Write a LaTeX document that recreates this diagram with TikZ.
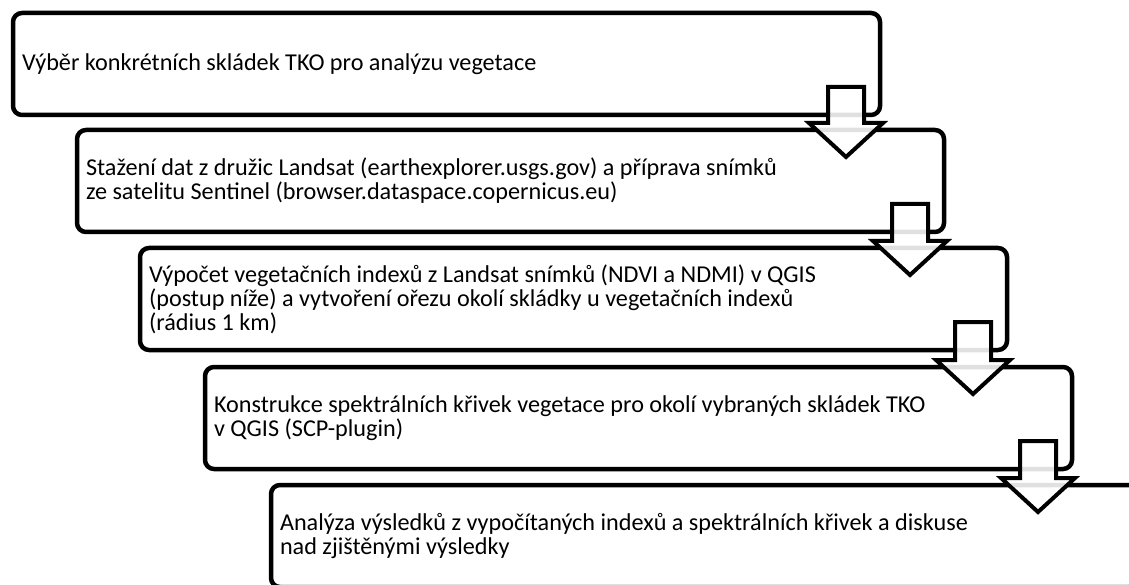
\documentclass[tikz,border=0pt]{standalone}
\usepackage{fontspec}
\setmainfont{Carlito}
\usetikzlibrary{calc}
\tikzset{
  stepbox/.style={draw=black, line width=4.5pt, rounded corners=9pt, fill=white,
    anchor=north west, outer sep=0pt, inner xsep=9pt, inner ysep=0pt,
    minimum height=102pt, text width=849pt, align=flush left,
    font=\fontsize{24.2pt}{24pt}\selectfont},
  flowarrow/.style={draw=black, line width=4pt, miter limit=10, fill=white, fill opacity=0.88}
}
\newcommand\blockarrow[2]{%
  \draw[flowarrow] let \p1=($(#1.south east)+(-34,-28)$), \p2=($(#2.north)+(0,27)$) in
    (\x1-18pt,\y1) -- (\x1+18pt,\y1) -- (\x1+18pt,\y2+34pt) -- (\x1+37pt,\y2+34pt)
    -- (\x1,\y2) -- (\x1-37pt,\y2+34pt) -- (\x1-18pt,\y2+34pt) -- cycle;}
\begin{document}
\begin{tikzpicture}[x=1pt,y=-1pt]
\useasboundingbox (0,0) rectangle (1129,585);
\clip (0,0) rectangle (1129,585);
\node[stepbox] (b1) at (13,13) {Výběr konkrétních skládek TKO pro analýzu vegetace};
\node[stepbox] (b2) at (77,130) {Stažení dat z družic Landsat (earthexplorer.usgs.gov) a příprava snímků\\ze satelitu Sentinel (browser.dataspace.copernicus.eu)};
\node[stepbox] (b3) at (140,248) {Výpočet vegetačních indexů z Landsat snímků (NDVI a NDMI) v QGIS\\(postup níže) a vytvoření ořezu okolí skládky u vegetačních indexů\\(rádius 1 km)};
\node[stepbox] (b4) at (205,367) {Konstrukce spektrálních křivek vegetace pro okolí vybraných skládek TKO\\v QGIS (SCP-plugin)};
\node[stepbox] (b5) at (271,485) {Analýza výsledků z vypočítaných indexů a spektrálních křivek a diskuse\\nad zjištěnými výsledky};
\blockarrow{b1}{b2}
\blockarrow{b2}{b3}
\blockarrow{b3}{b4}
\blockarrow{b4}{b5}
\end{tikzpicture}
\end{document}
